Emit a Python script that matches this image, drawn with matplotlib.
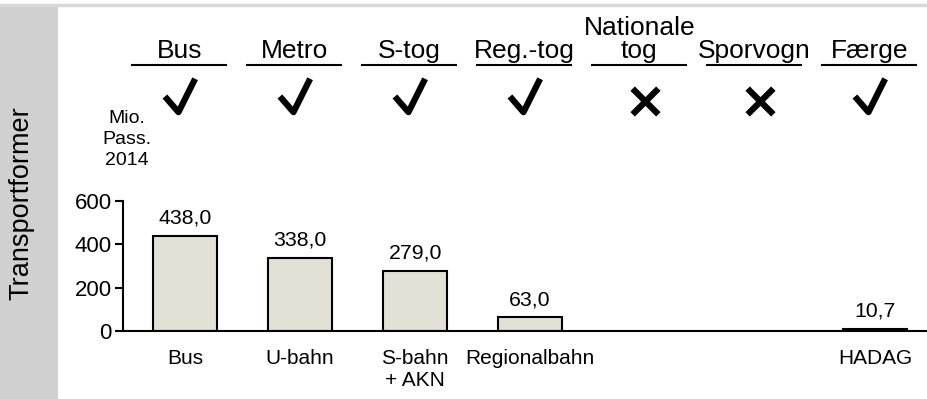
import numpy as np
import matplotlib
matplotlib.use("Agg")
import matplotlib.pyplot as plt
from matplotlib.patches import Rectangle
from matplotlib.lines import Line2D
from matplotlib.path import Path
from matplotlib.markers import MarkerStyle

# Hamburg transport modes (bottom) and Danish counterparts (top)
categories = ["Bus", "U-bahn", "S-bahn\n+ AKN", "Regionalbahn", "", "", "HADAG"]
passengers = [438.0, 338.0, 279.0, 63.0, np.nan, np.nan, 10.7]
value_labels = ["438,0", "338,0", "279,0", "63,0", "", "", "10,7"]
danish_modes = ["Bus", "Metro", "S-tog", "Reg.-tog", "Nationale\ntog", "Sporvogn", "Færge"]
available = [True, True, True, True, False, False, True]
yticks = [0, 200, 400, 600]

plt.rcParams["font.family"] = ["Liberation Sans", "DejaVu Sans"]

W, H = 928, 399
fig = plt.figure(figsize=(W / 100, H / 100), dpi=100)

# side panel and top border
fig.patches.append(Rectangle((0, 0), 58 / W, (H - 5) / H, transform=fig.transFigure,
                             facecolor="#d0d0d0", edgecolor="none", zorder=0))
fig.lines.append(Line2D([0, 1], [(H - 5) / H] * 2, transform=fig.transFigure,
                        color="#d9d9d9", lw=2.5))
fig.text(21 / W, 0.49, "Transportformer", rotation=90, ha="center", va="center",
         fontsize=19.5, color="#000000")

ax_left, ax_bottom, ax_top = 123, 331, 201
ax = fig.add_axes([ax_left / W, (H - ax_bottom) / H, (W - ax_left) / W,
                   (ax_bottom - ax_top) / H])
ax.patch.set_alpha(0)

x = np.arange(len(categories))
ax.bar(x, passengers, width=0.56, color="#e3e0d6", edgecolor="black", linewidth=1.5,
       zorder=2)
ax.set_xlim(-0.54, 6.46)
ax.set_ylim(0, 600)

for xi, v, lab in zip(x, passengers, value_labels):
    if lab:
        ax.annotate(lab, (xi, v), xytext=(0, 6), textcoords="offset points",
                    ha="center", va="bottom", fontsize=15.3)

ax.set_yticks(yticks)
ax.set_yticklabels([str(t) for t in yticks], fontsize=16)
ax.set_xticks(x)
ax.set_xticklabels(categories, fontsize=15)
ax.tick_params(axis="x", length=0, pad=13)
ax.tick_params(axis="y", length=6, width=1.5, pad=2)
for s in ["top", "right"]:
    ax.spines[s].set_visible(False)
ax.spines["left"].set_linewidth(1.5)
ax.spines["bottom"].set_linewidth(1.5)

tr = ax.get_xaxis_transform()
span = ax_bottom - ax_top


def yfrac(py):
    return (ax_bottom - py) / span


# tick and cross symbols as open stroked markers
check = MarkerStyle(Path([(-14, 0), (-1, -15), (15, 17)],
                         [Path.MOVETO, Path.LINETO, Path.LINETO]),
                    fillstyle="none", joinstyle="miter", capstyle="butt")
cross = MarkerStyle(Path([(-12.5, -12.5), (12.5, 12.5), (-12.5, 12.5), (12.5, -12.5)],
                         [Path.MOVETO, Path.LINETO, Path.MOVETO, Path.LINETO]),
                    fillstyle="none", joinstyle="miter", capstyle="butt")

# Danish mode headers with underline and availability mark
for xi, name, ok in zip(x, danish_modes, available):
    ax.text(xi - 0.05, yfrac(58), name, transform=tr, ha="center", va="baseline",
            fontsize=19, linespacing=0.95, clip_on=False)
    ax.add_line(Line2D([xi - 0.46, xi + 0.36], [yfrac(64.5)] * 2, transform=tr,
                       color="black", lw=1.5, clip_on=False))
    if ok:
        ax.plot([xi - 0.05], [yfrac(95.5)], transform=tr, marker=check, ms=25.5,
                mew=4.5, mec="black", ls="none", clip_on=False)
    else:
        ax.plot([xi], [yfrac(101)], transform=tr, marker=cross, ms=18.5,
                mew=4.5, mec="black", ls="none", clip_on=False)

ax.text(-0.51, yfrac(139.5), "Mio.\nPass.\n2014", transform=tr, ha="center",
        va="center", fontsize=14, linespacing=1.32, clip_on=False)

fig.savefig("out.png", dpi=100)
